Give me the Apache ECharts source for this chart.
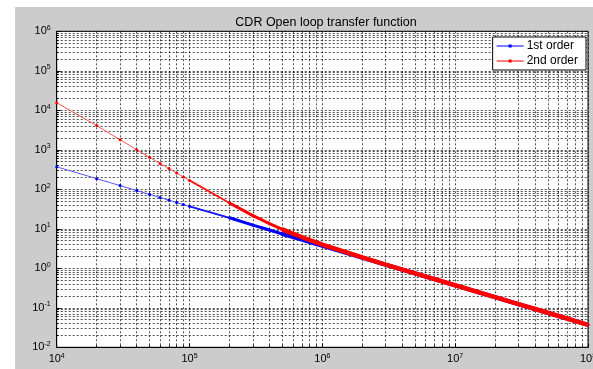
<!DOCTYPE html>
<html>
<head>
<meta charset="utf-8">
<script src="https://cdn.jsdelivr.net/npm/echarts@6/dist/echarts.min.js"></script>
<style>
html,body{margin:0;padding:0;background:#fff;}
#main{width:593px;height:369px;}
</style>
</head>
<body>
<div id="main"></div>
<script>
// Frequency points (Hz)
var freq = [1e4,2e4,3e4,4e4,5e4,6e4,7e4,8e4,9e4,1e5,2e5,3e5,4e5,5e5,6e5,7e5,8e5,9e5,1e6,2e6,3e6,5e6,1e7,2e7,3e7,5e7,1e8];
// 1st order magnitude
var firstOrder = [370,186,124,93,74,62,53,46,41,37,19,12.4,9.3,7.4,6.2,5.3,4.6,4.1,3.7,1.85,1.23,0.74,0.37,0.185,0.123,0.074,0.037];
// 2nd order magnitude
var secondOrder = [15500,4100,1800,1010,645,450,335,258,205,168,45,21.5,13.5,9.7,7.5,6.2,5.2,4.55,4.0,1.89,1.245,0.745,0.372,0.186,0.124,0.075,0.037];
var seriesNames = ['1st order','2nd order'];
var titleText = 'CDR Open loop transfer function';

function pairs(vals, from, to) {
  var out = [];
  for (var i = from; i <= to; i++) out.push([freq[i], vals[i]]);
  return out;
}
function expLabel(v) {
  var e = Math.round(Math.log10(v));
  return '{b|10}{e|' + e + '}';
}
var rich = {
  b: {fontSize: 11, fontFamily: 'Liberation Sans', color: '#000'},
  e: {fontSize: 7, fontFamily: 'Liberation Sans', color: '#000', verticalAlign: 'top', padding: [0,0,7,0]}
};
var gridLine = {show: true, lineStyle: {color: '#000', opacity: 0.68, type: [2,2], width: 1}};
var last = freq.length - 1;
var legendIcon = 'path://M0,4.5L27,4.5L27,5.5L0,5.5Z M12,3.5L15,3.5L15,6.5L12,6.5Z';

var chart = echarts.init(document.getElementById('main'), null, {renderer: 'canvas'});
chart.setOption({
  animation: false,
  backgroundColor: '#ffffff',
  graphic: [{type: 'rect', z: -10, silent: true, shape: {x: 15, y: 7, width: 578, height: 362}, style: {fill: '#cccccc'}}],
  title: {
    text: titleText, left: 321, top: 11, textAlign: 'center',
    textStyle: {fontSize: 12.5, fontWeight: 'normal', fontFamily: 'Liberation Sans', color: '#000'}
  },
  grid: {left: 56.7, top: 31.3, right: 5, bottom: 21.7, show: true, backgroundColor: '#fff', borderColor: '#000', borderWidth: 1, z: -1, outerBoundsMode: 'none'},
  legend: {
    data: [{name: seriesNames[0], icon: legendIcon}, {name: seriesNames[1], icon: legendIcon}],
    orient: 'vertical', right: 7, top: 37,
    backgroundColor: '#fff', borderColor: '#000', borderWidth: 1, borderRadius: 0,
    padding: [3, 8, 3, 4], itemGap: 3, itemWidth: 27, itemHeight: 10,
    textStyle: {fontSize: 12, fontFamily: 'Liberation Sans', color: '#000', padding: [0,0,0,-2]}
  },
  xAxis: {
    type: 'log', logBase: 10, min: 1e4, max: 1e8, splitNumber: 4,
    axisLine: {show: true, onZero: false, lineStyle: {color: '#000'}},
    axisTick: {show: true, inside: true, length: 4, lineStyle: {color: '#000'}},
    minorTick: {show: true, splitNumber: 9, length: 2},
    splitLine: gridLine, minorSplitLine: gridLine,
    axisLabel: {formatter: expLabel, rich: rich, margin: 5, showMaxLabel: true, alignMaxLabel: 'center', hideOverlap: false}
  },
  yAxis: {
    type: 'log', logBase: 10, min: 1e-2, max: 1e6, splitNumber: 8,
    axisLine: {show: true, onZero: false, lineStyle: {color: '#000'}},
    axisTick: {show: true, inside: true, length: 4, lineStyle: {color: '#000'}},
    minorTick: {show: true, splitNumber: 9, length: 2},
    splitLine: gridLine, minorSplitLine: gridLine,
    axisLabel: {formatter: expLabel, rich: rich, margin: 6}
  },
  series: [
    {name: seriesNames[0], type: 'line', data: pairs(firstOrder, 0, last), color: '#0000ff',
     symbol: 'circle', symbolSize: 3, showSymbol: true, lineStyle: {width: 1, color: '#5555ff'}, z: 3},
    {name: '_b2', type: 'line', data: pairs(firstOrder, 9, 11), symbol: 'none',
     lineStyle: {width: 1.8, color: '#1515ff'}, z: 3},
    {name: '_b3', type: 'line', data: pairs(firstOrder, 10, 14), symbol: 'none',
     lineStyle: {width: 3, color: '#0000ff'}, z: 3},
    {name: '_b4', type: 'line', data: pairs(firstOrder, 13, last), symbol: 'none',
     lineStyle: {width: 4, color: '#0000ff'}, z: 3},
    {name: seriesNames[1], type: 'line', data: pairs(secondOrder, 0, last), color: '#ff0000',
     symbol: 'circle', symbolSize: 3, showSymbol: true, lineStyle: {width: 1, color: '#ff5555'}, z: 4},
    {name: '_r2', type: 'line', data: pairs(secondOrder, 9, 11), symbol: 'none',
     lineStyle: {width: 1.8, color: '#ff1515'}, z: 4},
    {name: '_r3', type: 'line', data: pairs(secondOrder, 10, 14), symbol: 'none',
     lineStyle: {width: 3, color: '#ff0000'}, z: 4},
    {name: '_r4', type: 'line', data: pairs(secondOrder, 13, last), symbol: 'none',
     lineStyle: {width: 4.5, color: '#ff0000'}, z: 4}
  ]
});
</script>
</body>
</html>
